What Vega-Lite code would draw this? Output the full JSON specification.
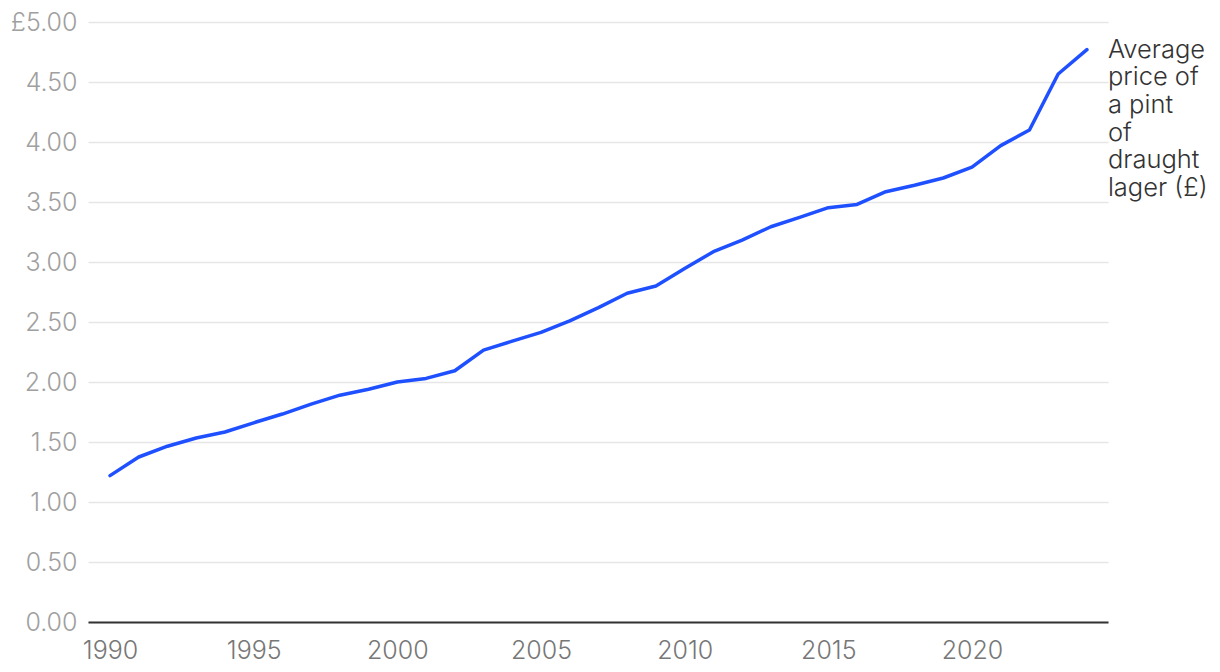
{
  "$schema": "https://vega.github.io/schema/vega-lite/v6.json",
  "autosize": "none",
  "padding": {"left": 88, "top": 22, "right": 112, "bottom": 50},
  "width": 1020,
  "height": 600,
  "background": "white",
  "config": {
    "view": {"stroke": null},
    "font": "Inter"
  },
  "data": {
    "values": [
      {"year": 1990, "price": 1.22},
      {"year": 1991, "price": 1.375},
      {"year": 1992, "price": 1.465},
      {"year": 1993, "price": 1.533},
      {"year": 1994, "price": 1.583},
      {"year": 1995, "price": 1.66},
      {"year": 1996, "price": 1.733},
      {"year": 1997, "price": 1.815},
      {"year": 1998, "price": 1.89},
      {"year": 1999, "price": 1.94},
      {"year": 2000, "price": 2.0},
      {"year": 2001, "price": 2.03},
      {"year": 2002, "price": 2.094},
      {"year": 2003, "price": 2.265},
      {"year": 2004, "price": 2.34},
      {"year": 2005, "price": 2.414},
      {"year": 2006, "price": 2.51},
      {"year": 2007, "price": 2.62},
      {"year": 2008, "price": 2.74},
      {"year": 2009, "price": 2.80},
      {"year": 2010, "price": 2.945},
      {"year": 2011, "price": 3.086},
      {"year": 2012, "price": 3.183},
      {"year": 2013, "price": 3.294},
      {"year": 2014, "price": 3.372},
      {"year": 2015, "price": 3.453},
      {"year": 2016, "price": 3.48},
      {"year": 2017, "price": 3.586},
      {"year": 2018, "price": 3.64},
      {"year": 2019, "price": 3.70},
      {"year": 2020, "price": 3.79},
      {"year": 2021, "price": 3.97},
      {"year": 2022, "price": 4.10},
      {"year": 2023, "price": 4.567},
      {"year": 2024, "price": 4.77}
    ]
  },
  "encoding": {
    "x": {
      "field": "year",
      "type": "quantitative",
      "scale": {"domain": [1989.234, 2024.734], "nice": false, "zero": false},
      "axis": {
        "title": null,
        "values": [1990, 1995, 2000, 2005, 2010, 2015, 2020],
        "format": "d",
        "grid": false,
        "ticks": false,
        "domain": true,
        "domainColor": "#333333",
        "domainWidth": 2,
        "labelColor": "#777777",
        "labelFontSize": 25,
        "labelPadding": 16,
        "labelFont": "Inter",
        "labelFontWeight": 300,
        "labelFlush": false
      }
    },
    "y": {
      "field": "price",
      "type": "quantitative",
      "scale": {"domain": [0, 5], "nice": false},
      "axis": {
        "title": null,
        "values": [0, 0.5, 1, 1.5, 2, 2.5, 3, 3.5, 4, 4.5, 5],
        "labelExpr": "datum.value == 5 ? '£5.00' : format(datum.value, '.2f')",
        "grid": true,
        "gridColor": "#e6e6e6",
        "gridWidth": 1.5,
        "ticks": false,
        "domain": false,
        "labelColor": "#a0a0a0",
        "labelFontSize": 25,
        "labelPadding": 11,
        "labelFont": "Inter",
        "labelFontWeight": 300
      }
    }
  },
  "layer": [
    {
      "mark": {"type": "line", "color": "#1f50ff", "strokeWidth": 3.5, "strokeCap": "round", "strokeJoin": "round"}
    },
    {
      "transform": [{"filter": "datum.year == 2024"}],
      "mark": {
        "type": "text",
        "text": ["Average", "price of", "a pint", "of", "draught", "lager (£)"],
        "align": "left",
        "baseline": "alphabetic",
        "dx": 21,
        "dy": 8,
        "fontSize": 25.5,
        "fontWeight": 300,
        "lineHeight": 27.7,
        "color": "#333333",
        "font": "Inter"
      }
    }
  ]
}
